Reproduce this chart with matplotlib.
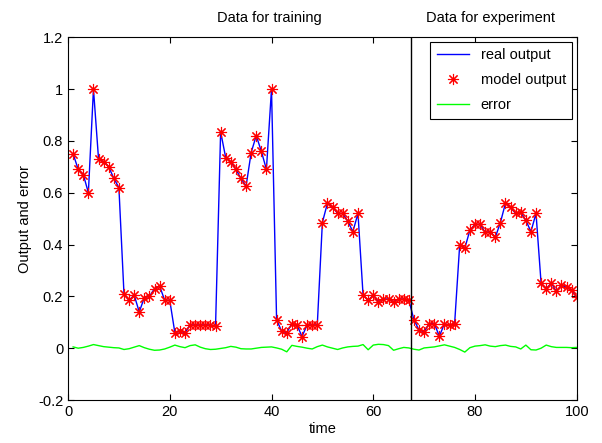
import matplotlib.pyplot as plt
from matplotlib.ticker import FuncFormatter

plt.rcParams['font.family'] = ['Liberation Sans', 'DejaVu Sans']

# time steps
time = list(range(1, 101))

# output (real and model lie on top of each other)
output = [0.75, 0.69, 0.67, 0.60, 1.00, 0.73, 0.72, 0.70, 0.655, 0.62,
          0.21, 0.185, 0.205, 0.14, 0.195, 0.20, 0.23, 0.24, 0.185, 0.185,
          0.06, 0.065, 0.06, 0.09, 0.09, 0.09, 0.09, 0.09, 0.085, 0.835,
          0.735, 0.72, 0.69, 0.655, 0.625, 0.755, 0.82, 0.76, 0.69, 1.00,
          0.11, 0.065, 0.06, 0.095, 0.09, 0.045, 0.09, 0.09, 0.09, 0.485,
          0.56, 0.545, 0.52, 0.52, 0.49, 0.45, 0.52, 0.205, 0.185, 0.205,
          0.18, 0.19, 0.19, 0.18, 0.19, 0.19, 0.185, 0.11, 0.07, 0.063,
          0.095, 0.095, 0.046, 0.095, 0.088, 0.095, 0.40, 0.386, 0.455, 0.478,
          0.478, 0.447, 0.45, 0.428, 0.485, 0.56, 0.543, 0.52, 0.525, 0.493,
          0.45, 0.52, 0.25, 0.23, 0.25, 0.22, 0.243, 0.235, 0.223, 0.197]

# error (green curve)
error = [0.005, 0.000, 0.003, 0.008, 0.014, 0.010, 0.006, 0.004, 0.002, 0.001,
         -0.005, -0.002, 0.004, 0.010, 0.002, -0.004, -0.008, -0.007, -0.003, 0.004,
         0.012, 0.006, 0.002, 0.010, 0.013, 0.004, -0.002, -0.005, -0.004, -0.001,
         0.002, 0.007, 0.004, -0.002, -0.003, -0.003, 0.000, 0.003, 0.004, 0.005,
         0.001, -0.004, -0.014, 0.011, 0.007, 0.004, 0.000, -0.003, 0.006, 0.012,
         0.005, 0.000, -0.005, 0.001, 0.005, 0.007, 0.008, 0.014, -0.006, 0.012,
         0.015, 0.014, 0.010, -0.008, -0.002, 0.003, 0.001, -0.004, -0.007, 0.001,
         0.003, 0.005, 0.009, 0.013, 0.008, 0.003, -0.005, -0.015, 0.002, 0.008,
         0.010, 0.013, 0.008, 0.006, 0.010, 0.012, 0.007, 0.005, -0.003, 0.012,
         -0.006, -0.007, 0.000, 0.012, 0.006, 0.003, 0.003, 0.003, 0.002, 0.003]

split_time = 67.5

fig = plt.figure(figsize=(6.02, 4.43), dpi=100)
ax = fig.add_axes([0.113, 0.097, 0.845, 0.819])

# matlab style asterisk marker
star = (8, 2, 0)

ax.plot(time, output, color='#0000ff', linewidth=1, label='real output')
ax.plot(time, output, linestyle='none', marker=star, color='red',
        markersize=8, markeredgewidth=0.8, label='model output')
ax.plot(time, error, color='#00ff00', linewidth=1, label='error')
ax.axvline(split_time, color='black', linewidth=1)

ax.set_xlim(0, 100)
ax.set_ylim(-0.2, 1.2)
ax.set_xticks(range(0, 101, 20))
ax.set_yticks([-0.2, 0, 0.2, 0.4, 0.6, 0.8, 1.0, 1.2])
ax.yaxis.set_major_formatter(FuncFormatter(lambda v, p: ('%g' % round(v, 2))))
ax.tick_params(direction='in', top=True, right=True, labelsize=10.5, length=4)

ax.set_xlabel('time', fontsize=10.5, labelpad=2)
ax.set_ylabel('Output and error', fontsize=10.5)

ax.text(0.395, 1.035, 'Data for training', transform=ax.transAxes,
        ha='center', va='bottom', fontsize=10.5)
ax.text(0.83, 1.035, 'Data for experiment', transform=ax.transAxes,
        ha='center', va='bottom', fontsize=10.5)

leg = ax.legend(loc='upper right', fontsize=10.5, fancybox=False,
                edgecolor='black', framealpha=1, borderaxespad=0.3,
                handlelength=2.2, labelspacing=0.75, borderpad=0.45)
leg.get_frame().set_linewidth(0.8)

fig.savefig('out.png', dpi=100)
